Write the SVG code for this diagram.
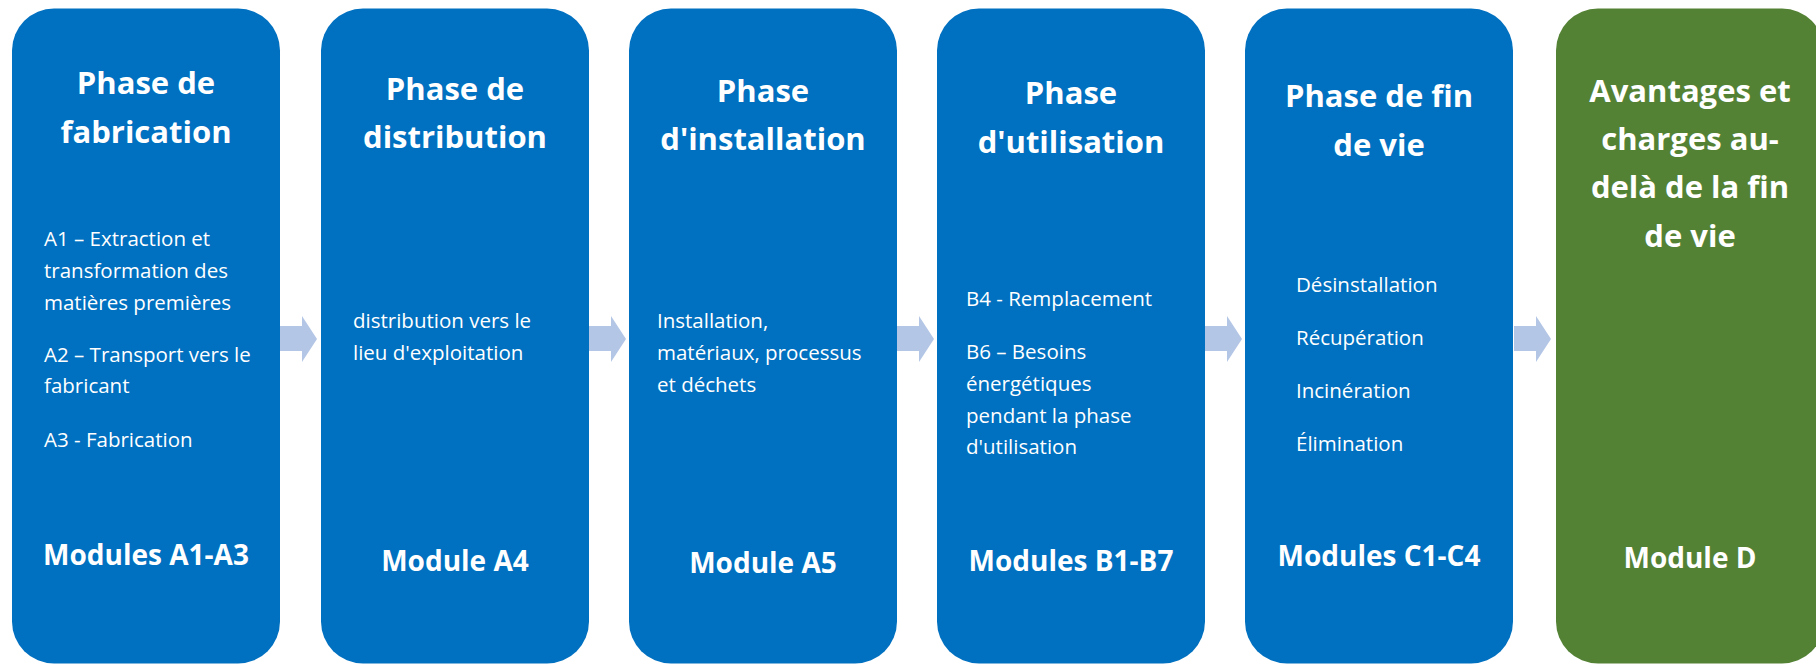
<svg xmlns="http://www.w3.org/2000/svg" width="1816" height="664" viewBox="0 0 1816 664">
  <style>
    .box { fill: #0070c0; }
    .green { fill: #548235; }
    .title { font-family: "Open Sans", "Noto Sans", sans-serif; font-weight: bold; font-size: 31px; fill: #ffffff; text-anchor: middle; }
    .mod { font-family: "Open Sans", "Noto Sans", sans-serif; font-weight: bold; font-size: 28px; fill: #ffffff; text-anchor: middle; }
    .body { font-family: "Open Sans", "Noto Sans", sans-serif; font-size: 20.5px; fill: #ffffff; }
    .arrow { fill: #b4c6e6; }
  </style>
  <rect width="1816" height="664" fill="#ffffff"/>
  <g id="connectors">
    <path class="arrow" d="M280,326 H302 V316 L317,339 L302,362 V351 H280 Z"/>
    <path class="arrow" d="M589,326 H611 V316 L626,339 L611,362 V351 H589 Z"/>
    <path class="arrow" d="M897,326 H919 V316 L934,339 L919,362 V351 H897 Z"/>
    <path class="arrow" d="M1205,326 H1227 V316 L1242,339 L1227,362 V351 H1205 Z"/>
    <path class="arrow" d="M1514,326 H1536 V316 L1551,339 L1536,362 V351 H1514 Z"/>
  </g>
  <g id="node-fabrication">
    <rect class="box" x="12" y="8.5" width="268" height="655" rx="42"/>
    <text class="title" x="146" y="94.3">Phase de</text>
    <text class="title" x="146" y="142.7">fabrication</text>
    <text class="body" x="44" y="246">A1 – Extraction et</text>
    <text class="body" x="44" y="278.3">transformation des</text>
    <text class="body" x="44" y="310">matières premières</text>
    <text class="body" x="44" y="361.7">A2 – Transport vers le</text>
    <text class="body" x="44" y="393.3">fabricant</text>
    <text class="body" x="44" y="446.7">A3 - Fabrication</text>
    <text class="mod" x="146" y="565">Modules A1-A3</text>
  </g>
  <g id="node-distribution">
    <rect class="box" x="321" y="8.5" width="268" height="655" rx="42"/>
    <text class="title" x="455" y="99.5">Phase de</text>
    <text class="title" x="455" y="148">distribution</text>
    <text class="body" x="353" y="328">distribution vers le</text>
    <text class="body" x="353" y="360">lieu d'exploitation</text>
    <text class="mod" x="455" y="571">Module A4</text>
  </g>
  <g id="node-installation">
    <rect class="box" x="629" y="8.5" width="268" height="655" rx="42"/>
    <text class="title" x="763" y="101.6">Phase</text>
    <text class="title" x="763" y="150">d'installation</text>
    <text class="body" x="657" y="328">Installation,</text>
    <text class="body" x="657" y="360">matériaux, processus</text>
    <text class="body" x="657" y="392">et déchets</text>
    <text class="mod" x="763" y="572.6">Module A5</text>
  </g>
  <g id="node-utilisation">
    <rect class="box" x="937" y="8.5" width="268" height="655" rx="42"/>
    <text class="title" x="1071" y="103.8">Phase</text>
    <text class="title" x="1071" y="153">d'utilisation</text>
    <text class="body" x="966" y="305.8">B4 - Remplacement</text>
    <text class="body" x="966" y="359">B6 – Besoins</text>
    <text class="body" x="966" y="390.5">énergétiques</text>
    <text class="body" x="966" y="422.7">pendant la phase</text>
    <text class="body" x="966" y="454">d'utilisation</text>
    <text class="mod" x="1071" y="571">Modules B1-B7</text>
  </g>
  <g id="node-fin-de-vie">
    <rect class="box" x="1245" y="8.5" width="268" height="655" rx="42"/>
    <text class="title" x="1379" y="107">Phase de fin</text>
    <text class="title" x="1379" y="156">de vie</text>
    <text class="body" x="1296" y="292">Désinstallation</text>
    <text class="body" x="1296" y="345">Récupération</text>
    <text class="body" x="1296" y="398">Incinération</text>
    <text class="body" x="1296" y="451">Élimination</text>
    <text class="mod" x="1379" y="566">Modules C1-C4</text>
  </g>
  <g id="node-module-d">
    <rect class="green" x="1556" y="8.5" width="268" height="655" rx="42"/>
    <text class="title" x="1690" y="101.6">Avantages et</text>
    <text class="title" x="1690" y="150">charges au-</text>
    <text class="title" x="1690" y="198">delà de la fin</text>
    <text class="title" x="1690" y="246.5">de vie</text>
    <text class="mod" x="1690" y="567.6">Module D</text>
  </g>
</svg>
